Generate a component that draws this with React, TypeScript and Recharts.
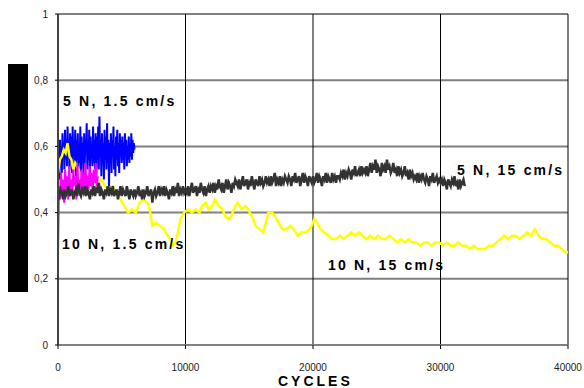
import React from 'react';
import { CartesianGrid, Line, LineChart, XAxis, YAxis } from 'recharts';

// x ticks / y ticks
const xTicks = [0, 10000, 20000, 30000, 40000];
const yTicks = [0, 0.2, 0.4, 0.6, 0.8, 1];

// 5 N, 1.5 cm/s (blue) - one reading every 50 cycles from 0
const blueStep = 50;
const blueValues = [
  0.45, 0.58, 0.50, 0.62, 0.55, 0.60, 0.52, 0.64, 0.57, 0.61, 0.53, 0.65, 0.56, 0.62, 0.54, 0.66, 0.58, 0.60, 0.53, 0.64,
  0.55, 0.63, 0.52, 0.66, 0.57, 0.61, 0.54, 0.65, 0.51, 0.62, 0.56, 0.64, 0.53, 0.60, 0.55, 0.66, 0.52, 0.63, 0.57, 0.61,
  0.50, 0.64, 0.55, 0.62, 0.58, 0.67, 0.53, 0.61, 0.56, 0.65, 0.52, 0.63, 0.57, 0.60, 0.54, 0.66, 0.55, 0.62, 0.53, 0.64,
  0.49, 0.63, 0.56, 0.66, 0.53, 0.69, 0.57, 0.62, 0.51, 0.64, 0.55, 0.61, 0.50, 0.65, 0.56, 0.63, 0.53, 0.67, 0.55, 0.62,
  0.48, 0.61, 0.55, 0.64, 0.52, 0.62, 0.57, 0.66, 0.53, 0.60, 0.51, 0.63, 0.56, 0.65, 0.54, 0.61, 0.52, 0.64, 0.57, 0.62,
  0.55, 0.63, 0.56, 0.61, 0.53, 0.64, 0.57, 0.62, 0.54, 0.60, 0.56, 0.63, 0.55, 0.61, 0.57, 0.64, 0.56, 0.62, 0.58, 0.61,
  0.59,
];

// 10 N, 1.5 cm/s (magenta) - every 80 cycles
const magentaStep = 80;
const magentaValues = [
  0.27, 0.48, 0.44, 0.52, 0.46, 0.50, 0.43, 0.53, 0.47, 0.51,
  0.44, 0.54, 0.46, 0.50, 0.45, 0.53, 0.48, 0.51, 0.44, 0.55,
  0.47, 0.50, 0.45, 0.53, 0.46, 0.52, 0.48, 0.55, 0.46, 0.51,
  0.47, 0.54, 0.48, 0.52, 0.46, 0.53, 0.49, 0.55, 0.48, 0.51,
];

// 5 N, 15 cm/s (dark grey) - every 100 cycles
const blackStep = 100;
const blackValues = [
  0.46, 0.45, 0.47, 0.46, 0.44, 0.47, 0.45, 0.46, 0.48, 0.45, 0.46, 0.47, 0.44, 0.46, 0.47, 0.45, 0.49, 0.46, 0.45, 0.47,
  0.46, 0.48, 0.45, 0.47, 0.46, 0.44, 0.47, 0.46, 0.48, 0.45, 0.47, 0.46, 0.49, 0.45, 0.47, 0.46, 0.44, 0.47, 0.46, 0.48,
  0.45, 0.47, 0.46, 0.48, 0.45, 0.46, 0.47, 0.44, 0.46, 0.48, 0.45, 0.47, 0.46, 0.45, 0.48, 0.46, 0.44, 0.47, 0.46, 0.45,
  0.47, 0.45, 0.46, 0.48, 0.45, 0.46, 0.44, 0.47, 0.45, 0.46, 0.48, 0.45, 0.46, 0.47, 0.43, 0.46, 0.47, 0.45, 0.46, 0.48,
  0.45, 0.47, 0.46, 0.48, 0.45, 0.47, 0.46, 0.44, 0.47, 0.46, 0.48, 0.45, 0.47, 0.46, 0.49, 0.45, 0.47, 0.46, 0.48, 0.46,
  0.47, 0.46, 0.48, 0.45, 0.47, 0.49, 0.46, 0.47, 0.48, 0.45, 0.47, 0.46, 0.49, 0.47, 0.46, 0.48, 0.45, 0.47, 0.48, 0.46,
  0.48, 0.47, 0.49, 0.46, 0.48, 0.47, 0.50, 0.48, 0.47, 0.49, 0.46, 0.48, 0.50, 0.47, 0.49, 0.48, 0.46, 0.49, 0.48, 0.50,
  0.49, 0.48, 0.50, 0.47, 0.49, 0.51, 0.48, 0.49, 0.50, 0.47, 0.49, 0.48, 0.51, 0.49, 0.47, 0.50, 0.49, 0.48, 0.51, 0.49,
  0.50, 0.48, 0.49, 0.51, 0.49, 0.50, 0.48, 0.51, 0.49, 0.50, 0.52, 0.48, 0.50, 0.49, 0.51, 0.48, 0.50, 0.49, 0.51, 0.50,
  0.49, 0.51, 0.50, 0.48, 0.51, 0.50, 0.52, 0.49, 0.50, 0.51, 0.48, 0.50, 0.52, 0.49, 0.51, 0.50, 0.48, 0.51, 0.50, 0.49,
  0.51, 0.49, 0.50, 0.52, 0.49, 0.51, 0.50, 0.48, 0.51, 0.50, 0.52, 0.49, 0.51, 0.50, 0.49, 0.52, 0.50, 0.51, 0.49, 0.51,
  0.51, 0.50, 0.52, 0.51, 0.53, 0.50, 0.52, 0.51, 0.53, 0.52, 0.50, 0.53, 0.52, 0.54, 0.51, 0.52, 0.53, 0.51, 0.54, 0.52,
  0.53, 0.52, 0.54, 0.51, 0.53, 0.55, 0.52, 0.54, 0.53, 0.56, 0.52, 0.54, 0.53, 0.51, 0.55, 0.53, 0.54, 0.52, 0.56, 0.53,
  0.54, 0.52, 0.53, 0.55, 0.52, 0.53, 0.51, 0.54, 0.52, 0.53, 0.51, 0.52, 0.54, 0.51, 0.52, 0.50, 0.53, 0.51, 0.52, 0.50,
  0.51, 0.50, 0.52, 0.49, 0.51, 0.50, 0.52, 0.50, 0.49, 0.51, 0.50, 0.48, 0.51, 0.50, 0.52, 0.49, 0.50, 0.51, 0.49, 0.50,
  0.49, 0.50, 0.48, 0.50, 0.49, 0.47, 0.50, 0.49, 0.48, 0.50, 0.49, 0.51, 0.48, 0.49, 0.47, 0.50, 0.48, 0.49, 0.50, 0.48,
];

// 10 N, 15 cm/s (yellow)
const yellowCycles = [
  0, 150, 300, 450, 600, 750, 900, 1050, 1200, 1350, 1500, 1700, 1900, 2200, 2500, 2800, 3100, 3400, 3700, 4000,
  4300, 4600, 4900, 5200, 5500, 5800, 6100, 6400, 6700, 7000, 7200, 7400, 7700, 8000, 8300, 8600, 8800, 9000, 9200, 9400,
  9600, 9900, 10200, 10500, 10800, 11100, 11300, 11600, 11800, 12100, 12300, 12600, 12900, 13100, 13400, 13600, 13900, 14100, 14400, 14700,
  14900, 15200, 15500, 15800, 16100, 16300, 16500, 16800, 17000, 17300, 17600, 17900, 18200, 18500, 18800, 19100, 19400, 19700, 19900, 20100,
  20300, 20600, 20900, 21200, 21500, 21800, 22100, 22400, 22700, 23000, 23300, 23600, 23900, 24200, 24500, 24800, 25100, 25400, 25700, 26000,
  26300, 26600, 26900, 27200, 27500, 27800, 28100, 28400, 28700, 29000, 29300, 29600, 29900, 30200, 30500, 30800, 31100, 31400, 31700, 32000,
  32300, 32600, 32900, 33200, 33500, 33800, 34100, 34400, 34700, 35000, 35300, 35600, 35900, 36200, 36500, 36800, 37100, 37400, 37700, 38000,
  38300, 38600, 38900, 39200, 39500, 39800, 40000,
];
const yellowValues = [
  0.52, 0.56, 0.57, 0.59, 0.58, 0.61, 0.57, 0.56, 0.53, 0.55, 0.54, 0.52, 0.51, 0.50, 0.51, 0.50, 0.49, 0.50, 0.48, 0.47,
  0.48, 0.46, 0.44, 0.42, 0.40, 0.41, 0.40, 0.43, 0.44, 0.43, 0.41, 0.36, 0.37, 0.36, 0.35, 0.33, 0.32, 0.30, 0.31, 0.34,
  0.38, 0.40, 0.41, 0.40, 0.41, 0.40, 0.42, 0.43, 0.41, 0.42, 0.44, 0.42, 0.41, 0.39, 0.38, 0.39, 0.42, 0.43, 0.41, 0.42,
  0.41, 0.39, 0.36, 0.35, 0.34, 0.37, 0.40, 0.40, 0.39, 0.37, 0.35, 0.35, 0.36, 0.35, 0.33, 0.34, 0.34, 0.35, 0.36, 0.38,
  0.37, 0.35, 0.34, 0.33, 0.32, 0.32, 0.33, 0.32, 0.33, 0.34, 0.33, 0.34, 0.33, 0.32, 0.33, 0.32, 0.33, 0.32, 0.32, 0.33,
  0.32, 0.31, 0.32, 0.31, 0.32, 0.31, 0.31, 0.30, 0.31, 0.31, 0.30, 0.31, 0.31, 0.30, 0.31, 0.30, 0.30, 0.31, 0.30, 0.30,
  0.29, 0.30, 0.29, 0.29, 0.29, 0.30, 0.30, 0.31, 0.32, 0.33, 0.32, 0.33, 0.33, 0.32, 0.33, 0.34, 0.33, 0.35, 0.33, 0.32,
  0.32, 0.31, 0.30, 0.30, 0.29, 0.28, 0.28,
];

const blueData = blueValues.map((y, i) => ({ x: i * blueStep, y }));
const magentaData = magentaValues.map((y, i) => ({ x: i * magentaStep, y }));
const blackData = blackValues.map((y, i) => ({ x: i * blackStep, y }));
const yellowData = yellowCycles.map((x, i) => ({ x, y: yellowValues[i] }));

const FONT = '"Liberation Sans", Arial, sans-serif';

const noteStyle = { fontFamily: FONT, fontSize: 14, fontWeight: 700, letterSpacing: 2.2, fill: '#000' };

export default function App() {
  return (
    <div style={{ position: 'fixed', left: 0, top: 0, width: 584, height: 388, background: '#fff' }}>
      <LineChart width={584} height={388} margin={{ top: 14, right: 16, bottom: 0, left: 0 }}>
        <CartesianGrid horizontal vertical={false} stroke="#808080" strokeWidth={2} />
        <CartesianGrid horizontal={false} vertical stroke="#000" strokeWidth={1} />
        <XAxis
          type="number" dataKey="x" domain={[0, 40000]} ticks={xTicks} height={43}
          axisLine={{ stroke: '#808080', strokeWidth: 2 }} tickLine={{ stroke: '#000' }}
          tickSize={4} tickMargin={15}
          tick={{ fontFamily: FONT, fontSize: 10, fill: '#222' }}
        />
        <YAxis
          type="number" domain={[0, 1]} ticks={yTicks} width={58}
          axisLine={{ stroke: '#444', strokeWidth: 2 }} tickLine={{ stroke: '#000' }}
          tickSize={3} tickMargin={7}
          tickFormatter={(v: number) => String(v).replace('.', ',')}
          tick={{ fontFamily: FONT, fontSize: 10, fill: '#222' }}
        />
        <Line data={blueData} dataKey="y" stroke="#0000ff" strokeWidth={2} dot={false} isAnimationActive={false} />
        <Line data={yellowData} dataKey="y" stroke="#ffff00" strokeWidth={2.5} dot={false} isAnimationActive={false} />
        <Line data={magentaData} dataKey="y" stroke="#ff00ff" strokeWidth={2} dot={false} isAnimationActive={false} />
        <Line data={blackData} dataKey="y" stroke="#333333" strokeWidth={2.5} dot={false} isAnimationActive={false} />
      </LineChart>
      <svg width={584} height={388} style={{ position: 'absolute', left: 0, top: 0, pointerEvents: 'none' }}>
        <rect x={8} y={64} width={20} height={228} fill="#000" />
        <text x={63} y={106} style={noteStyle}>5 N, 1.5 cm/s</text>
        <text x={62} y={249} style={noteStyle}>10 N, 1.5 cm/s</text>
        <text x={457} y={175} style={noteStyle}>5 N, 15 cm/s</text>
        <text x={328} y={270} style={noteStyle}>10 N, 15 cm/s</text>
        <text x={278} y={386} style={{ ...noteStyle, letterSpacing: 3 }}>CYCLES</text>
      </svg>
    </div>
  );
}
